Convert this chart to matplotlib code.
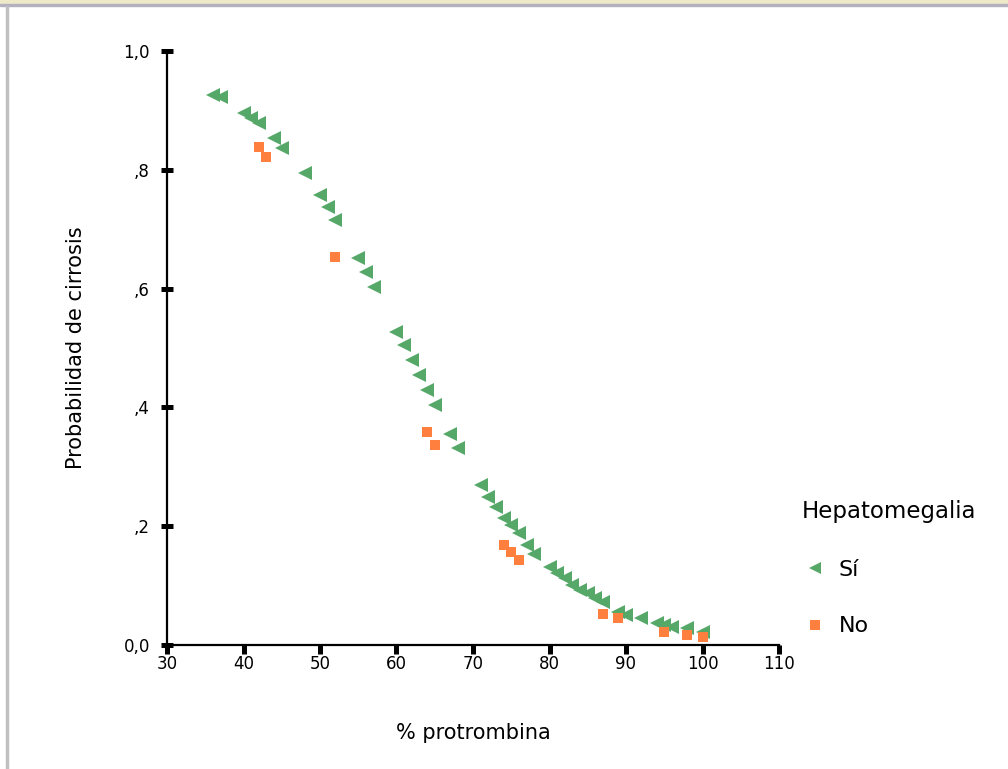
import numpy as np
import matplotlib
matplotlib.use("Agg")
import matplotlib.pyplot as plt
from matplotlib.patches import Rectangle

# Hepatomegalia = Sí
x_si = [36, 37, 40, 41, 42, 44, 45, 48, 50, 51, 52, 55, 56, 57, 60, 61, 62, 63, 64, 65,
        67, 68, 71, 72, 73, 74, 75, 76, 77, 78, 80, 81, 82, 83, 84, 85, 86, 87, 89, 90,
        92, 94, 95, 96, 98, 100]
p_si = [0.926, 0.923, 0.896, 0.887, 0.879, 0.853, 0.837, 0.795, 0.758, 0.737, 0.715,
        0.652, 0.628, 0.603, 0.527, 0.505, 0.479, 0.455, 0.429, 0.404, 0.355, 0.332,
        0.270, 0.249, 0.233, 0.213, 0.202, 0.188, 0.168, 0.154, 0.132, 0.121, 0.112,
        0.101, 0.093, 0.087, 0.079, 0.073, 0.056, 0.051, 0.045, 0.037, 0.034, 0.031,
        0.028, 0.022]

# Hepatomegalia = No
x_no = [42, 43, 52, 64, 65, 74, 75, 76, 87, 89, 95, 98, 100]
p_no = [0.838, 0.822, 0.653, 0.358, 0.336, 0.168, 0.157, 0.143, 0.053, 0.045,
        0.022, 0.017, 0.014]

xticks = [30, 40, 50, 60, 70, 80, 90, 100, 110]
yticks = [0.0, 0.2, 0.4, 0.6, 0.8, 1.0]
ylabels = ["0,0", ",2", ",4", ",6", ",8", "1,0"]

verde = "#55a868"
naranja = "#ff7f3f"

fig = plt.figure(figsize=(10.08, 7.69), dpi=100)
ax = fig.add_axes([167 / 1008, 1 - 645 / 769, (779 - 167) / 1008, (645 - 51) / 769])

ax.plot(x_si, p_si, linestyle="none", marker="<", markersize=9.5, color=verde,
        markeredgewidth=0, label="Sí")
ax.plot(x_no, p_no, linestyle="none", marker="s", markersize=7.5, color=naranja,
        markeredgewidth=0, label="No")

ax.set_xlim(30, 110)
ax.set_ylim(0, 1)
ax.set_xticks(xticks)
ax.set_yticks(yticks)
ax.set_yticklabels(ylabels)

for s in ["top", "right"]:
    ax.spines[s].set_visible(False)
for s in ["left", "bottom"]:
    ax.spines[s].set_linewidth(1.6)
ax.tick_params(axis="x", direction="out", length=6.5, width=3.6, pad=1, labelsize=12)
ax.tick_params(axis="y", direction="inout", length=8.5, width=3.6, pad=8, labelsize=12)

ax.set_xlabel("% protrombina", fontsize=15, labelpad=36)
ax.set_ylabel("Probabilidad de cirrosis", fontsize=15, labelpad=27)

leg = fig.legend(loc="upper left", bbox_to_anchor=(791 / 1008, 1 - 489 / 769),
                 frameon=False, title="Hepatomegalia", title_fontsize=16.5, fontsize=16,
                 alignment="left", borderpad=0, handlelength=1.2, handletextpad=0.45,
                 labelspacing=1.65, markerscale=0.9)

# marco de la ventana
fig.add_artist(Rectangle((0, 1 - 4 / 769), 1, 4 / 769, transform=fig.transFigure,
                         color="#eeeac8", zorder=0))
fig.add_artist(Rectangle((0, 1 - 5.5 / 769), 1, 1.5 / 769, transform=fig.transFigure,
                         color="#b4b0c0", zorder=0))
fig.add_artist(Rectangle((6 / 1008, 0), 2 / 1008, 1 - 5.5 / 769, transform=fig.transFigure,
                         color="#c0c0c0", zorder=0))

fig.savefig("out.png", dpi=100)
